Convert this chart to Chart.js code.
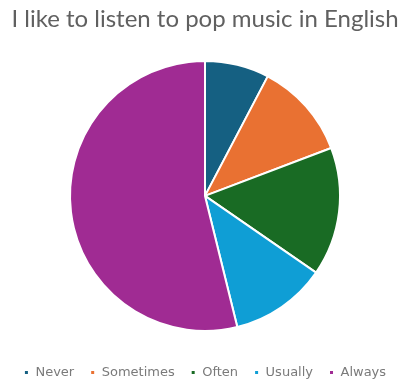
<!DOCTYPE html>
<html>
<head>
<meta charset="utf-8">
<script src="https://cdn.jsdelivr.net/npm/chart.js@4.4.1/dist/chart.umd.min.js"></script>
<style>
  html, body { margin: 0; padding: 0; background: #fff; }
  #wrap { width: 404px; height: 379px; }
</style>
</head>
<body>
<div id="wrap"><canvas id="myChart"></canvas></div>
<script>
const labels = ['Never', 'Sometimes', 'Often', 'Usually', 'Always'];
const counts = [2, 3, 4, 3, 14];
const colors = ['#156082', '#E97132', '#196B24', '#0F9ED5', '#A02B93'];

const ctx = document.getElementById('myChart');

new Chart(ctx, {
  type: 'pie',
  data: {
    labels: labels,
    datasets: [{
      data: counts,
      backgroundColor: colors,
      borderColor: '#ffffff',
      borderWidth: 2
    }]
  },
  options: {
    responsive: true,
    maintainAspectRatio: false,
    animation: false,
    radius: 135,
    // legend sits low, close to the bottom edge
    layout: { padding: { left: 6, right: 0, top: 0, bottom: -10 } },
    plugins: {
      title: {
        display: true,
        text: 'I like to listen to pop music in English',
        color: '#606060',
        font: { family: 'Lato', size: 24, weight: 'normal' },
        padding: { top: 5, bottom: 8 }
      },
      legend: {
        position: 'bottom',
        labels: {
          color: '#7a7a7a',
          font: { family: 'DejaVu Sans', size: 13 },
          usePointStyle: true,
          pointStyle: 'rect',
          boxWidth: 5,
          boxHeight: 5,
          padding: 16
        }
      },
      tooltip: { enabled: false }
    }
  }
});
</script>
</body>
</html>
